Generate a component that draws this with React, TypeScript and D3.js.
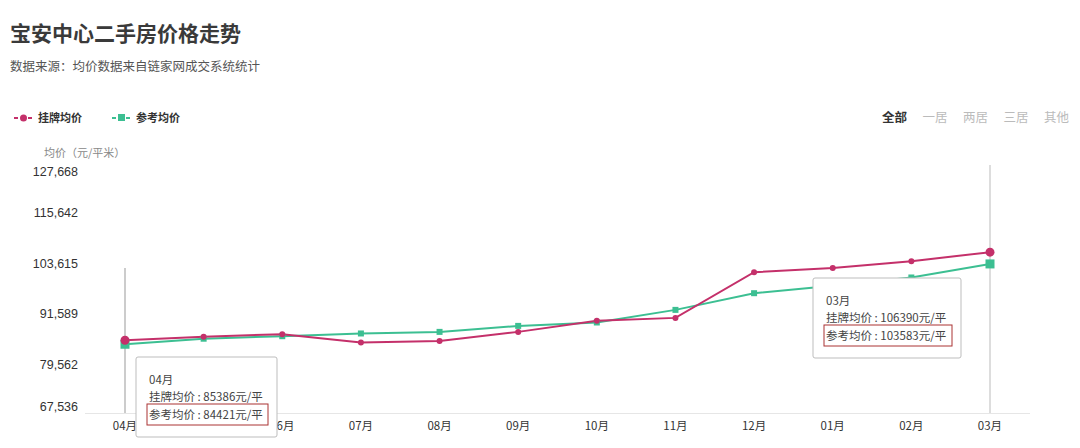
import React from "react";
import * as d3 from "d3";

const months = ["04月", "05月", "06月", "07月", "08月", "09月", "10月", "11月", "12月", "01月", "02月", "03月"];
const listingPrice = [85386, 86220, 86820, 84840, 85220, 87370, 90000, 90710, 101600, 102600, 104240, 106390];
const referencePrice = [84421, 85740, 86340, 86990, 87370, 88800, 89610, 92620, 96600, 98400, 100350, 103583];
const yTicks = [67536, 79562, 91589, 103615, 115642, 127668];
const tabs = ["全部", "一居", "两居", "三居", "其他"];

const W = 1080;
const H = 448;
const RED = "#c4306a";
const GREEN = "#3cbf92";
const CJK = "'Noto Sans CJK SC', 'Noto Sans', sans-serif";
const LAT = "'Liberation Sans', Arial, sans-serif";

export default function App() {
  const x = d3.scalePoint<string>().domain(months).range([125, 990]);
  const y = d3.scaleLinear().domain([67536, 127668]).range([415, 163]);
  const lineGen = d3
    .line<number>()
    .x((_, i) => x(months[i]) as number)
    .y((v) => y(v));

  const last = months.length - 1;
  const tip = (idx: number, bx: number, by: number, bw: number) => {
    const lines = [
      `挂牌均价 : ${listingPrice[idx]}元/平`,
      `参考均价 : ${referencePrice[idx]}元/平`,
    ];
    return (
      <g>
        <rect x={bx} y={by} width={bw} height={80} fill="#fff" stroke="#bdbdbd" strokeWidth={1} rx={2} />
        <text x={bx + 13} y={by + 27} fontSize={11.5} fill="#444" fontFamily={CJK}>{months[idx]}</text>
        <text x={bx + 13} y={by + 44} fontSize={11.5} fill="#444" fontFamily={CJK}>{lines[0]}</text>
        <rect x={bx + 11} y={by + 47} width={bw - 20} height={21} fill="none" stroke="#a33" strokeWidth={1} />
        <text x={bx + 13} y={by + 62} fontSize={11.5} fill="#444" fontFamily={CJK}>{lines[1]}</text>
      </g>
    );
  };

  const clampLabel = (v: number) => Math.max(172, Math.min(407, y(v)));

  return (
    <svg width={W} height={H} style={{ position: "absolute", left: 0, top: 0, background: "#fff" }}>
      <text x={10} y={41} fontSize={21} fontWeight="bold" fill="#3a3a3a" fontFamily={CJK}>宝安中心二手房价格走势</text>
      <text x={10} y={71} fontSize={12.5} fill="#555" fontFamily={CJK}>数据来源：均价数据来自链家网成交系统统计</text>

      {/* legend */}
      <g>
        <line x1={14} x2={33} y1={118} y2={118} stroke={RED} strokeWidth={2} strokeDasharray="4,3" />
        <circle cx={23.5} cy={118} r={3.5} fill={RED} />
        <text x={38} y={122} fontSize={11} fontWeight="bold" fill="#333" fontFamily={CJK}>挂牌均价</text>
        <line x1={112} x2={131} y1={118} y2={118} stroke={GREEN} strokeWidth={2} strokeDasharray="4,3" />
        <rect x={118} y={114} width={7} height={7} fill={GREEN} />
        <text x={136} y={122} fontSize={11} fontWeight="bold" fill="#333" fontFamily={CJK}>参考均价</text>
      </g>

      {/* tabs */}
      {tabs.map((t, i) => (
        <text key={t} x={882 + i * 40.5} y={122} fontSize={12.5} fontWeight={i === 0 ? "bold" : "normal"} fill={i === 0 ? "#333" : "#bbb"} fontFamily={CJK}>{t}</text>
      ))}

      {/* y axis */}
      <text x={44} y={157} fontSize={11} fill="#888" fontFamily={CJK}>均价（元/平米）</text>
      {yTicks.map((t) => (
        <text key={t} x={78} y={clampLabel(t) + 4} textAnchor="end" fontSize={12.5} fill="#333" fontFamily={LAT}>{d3.format(",")(t)}</text>
      ))}

      {/* x axis */}
      <line x1={85} x2={1030} y1={413.5} y2={413.5} stroke="#e6e6e6" strokeWidth={1} />
      {months.map((m) => (
        <text key={m} x={x(m)} y={430} textAnchor="middle" fontSize={11.5} fill="#333" fontFamily={CJK}>{m}</text>
      ))}

      {/* hover lines */}
      <line x1={x(months[0])} x2={x(months[0])} y1={268} y2={413} stroke="#999" strokeWidth={1} />
      <line x1={x(months[last])} x2={x(months[last])} y1={165} y2={413} stroke="#bbb" strokeWidth={1} />

      {/* series */}
      <path d={lineGen(referencePrice) || ""} fill="none" stroke={GREEN} strokeWidth={2} />
      <path d={lineGen(listingPrice) || ""} fill="none" stroke={RED} strokeWidth={2} />
      {referencePrice.map((v, i) => {
        const s = i === 0 || i === last ? 9 : 6;
        return <rect key={"g" + i} x={(x(months[i]) as number) - s / 2} y={y(v) - s / 2} width={s} height={s} fill={GREEN} />;
      })}
      {listingPrice.map((v, i) => (
        <circle key={"r" + i} cx={x(months[i])} cy={y(v)} r={i === 0 || i === last ? 4.5 : 3} fill={RED} />
      ))}

      {tip(0, 136, 357, 141)}
      {tip(last, 813, 278, 148)}
    </svg>
  );
}
